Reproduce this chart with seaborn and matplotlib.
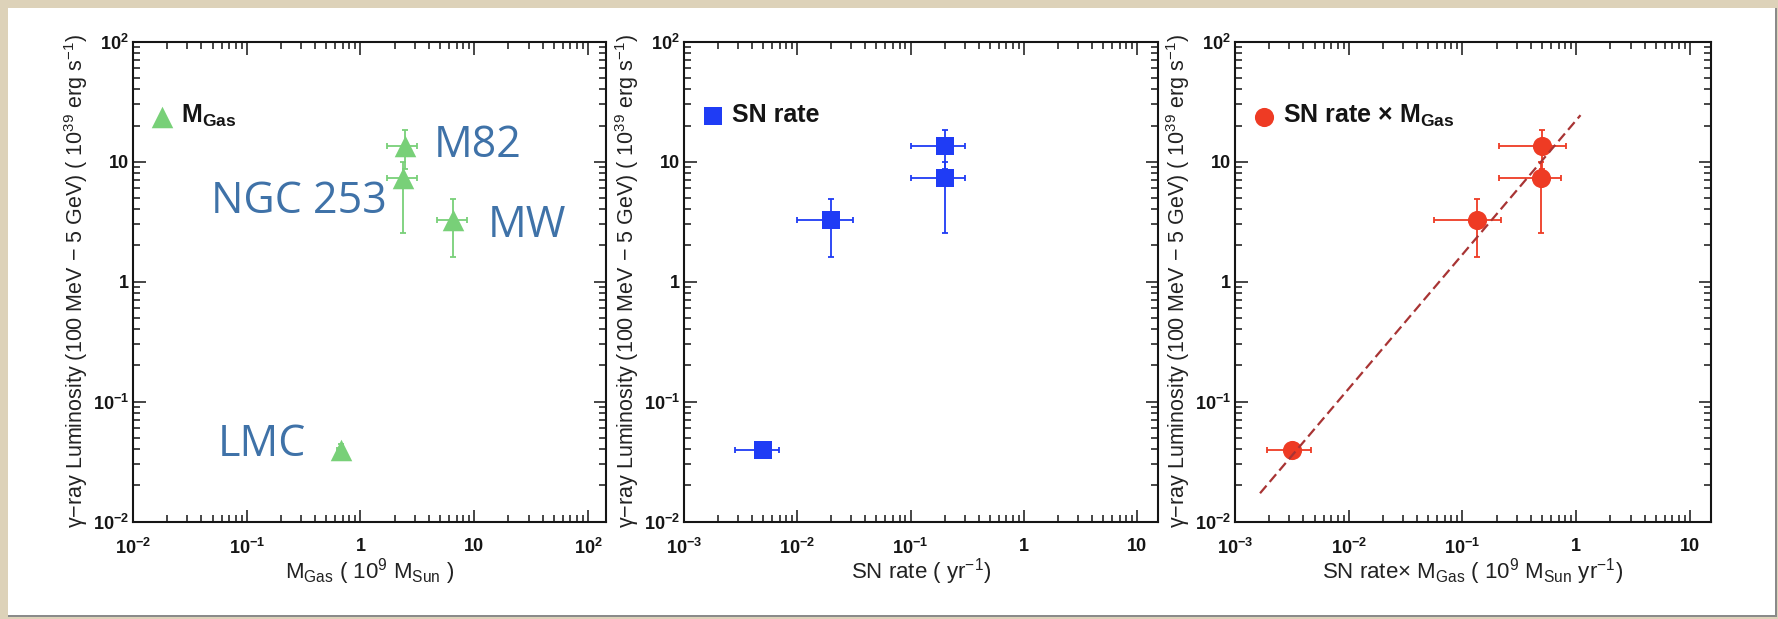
import numpy as np
import pandas as pd
import matplotlib
matplotlib.use("Agg")
import matplotlib.pyplot as plt
import seaborn as sns
from matplotlib.ticker import LogLocator, NullFormatter, FixedLocator
from matplotlib.patches import Rectangle

# ---------------------------------------------------------------- data
galaxies = ["M82", "NGC 253", "MW", "LMC"]

# gamma-ray luminosity, 100 MeV - 5 GeV, in 1e39 erg/s
lum = [13.5, 7.3, 3.25, 0.0395]
lum_lo = [4.8, 4.75, 1.65, 0.005]
lum_hi = [4.8, 2.7, 1.6, 0.005]

# total gas mass, 1e9 M_sun
m_gas = [2.46, 2.35, 6.46, 0.67]
m_gas_lo = [0.76, 0.65, 1.78, 0.05]
m_gas_hi = [0.66, 0.77, 2.23, 0.05]

# supernova rate, 1/yr
sn_rate = [0.2, 0.2, 0.02, 0.005]
sn_rate_lo = [0.1, 0.1, 0.01, 0.0022]
sn_rate_hi = [0.1, 0.1, 0.011, 0.0019]

# SN rate x gas mass, 1e9 M_sun / yr
sn_x_gas = [0.5, 0.49, 0.135, 0.0032]
sn_x_gas_lo = [0.29, 0.28, 0.079, 0.0013]
sn_x_gas_hi = [0.31, 0.24, 0.083, 0.0015]

# power-law fit drawn in the right panel (end points)
fit_x = [0.00166, 1.09]
fit_y = [0.0172, 24.4]

# tick values and labels
y_ticks = [0.01, 0.1, 1, 10, 100]
y_ticklabels = ["10$^{-2}$", "10$^{-1}$", "1", "10", "10$^{2}$"]
x1_ticks = [0.01, 0.1, 1, 10, 100]
x1_ticklabels = ["10$^{-2}$", "10$^{-1}$", "1", "10", "10$^{2}$"]
x23_ticks = [0.001, 0.01, 0.1, 1, 10]
x23_ticklabels = ["10$^{-3}$", "10$^{-2}$", "10$^{-1}$", "1", "10"]

df = pd.DataFrame({
    "galaxy": galaxies, "lum": lum, "m_gas": m_gas,
    "sn_rate": sn_rate, "sn_x_gas": sn_x_gas,
})

# ---------------------------------------------------------------- style
sns.set_theme(style="ticks")
plt.rcParams["font.family"] = ["Liberation Sans", "DejaVu Sans"]
plt.rcParams["mathtext.default"] = "regular"

INK = "#151515"
GREEN = "#78d078"
BLUE = "#1f3cf5"
RED = "#ee3b24"
FIT = "#a83434"
NOTE = "#3f72a8"

W, H = 1778, 619
fig = plt.figure(figsize=(W / 100, H / 100), dpi=100)
fig.patch.set_facecolor("#ddd2b9")
fig.patches.append(Rectangle((8 / W, 1 - 617 / H), 1769 / W, 609 / H,
                             transform=fig.transFigure, facecolor="#8a8a8a",
                             edgecolor="none", zorder=-2))
fig.patches.append(Rectangle((8 / W, 1 - 615 / H), 1767 / W, 607 / H,
                             transform=fig.transFigure, facecolor="white",
                             edgecolor="none", zorder=-1))

bottom = 1 - 521.5 / H
height = 479.8 / H
ax1 = fig.add_axes([133 / W, bottom, 473 / W, height])
ax2 = fig.add_axes([684 / W, bottom, 474 / W, height])
ax3 = fig.add_axes([1235 / W, bottom, 476 / W, height])

ylabel = "γ−ray Luminosity (100 MeV − 5 GeV) ( 10$^{39}$ erg s$^{-1}$)"


def style_axes(ax, xlim, xticks, xticklabels, xlabel):
    ax.set_xscale("log")
    ax.set_yscale("log")
    ax.set_xlim(*xlim)
    ax.set_ylim(0.01, 100)
    ax.xaxis.set_major_locator(FixedLocator(xticks))
    ax.set_xticks(xticks, xticklabels)
    ax.yaxis.set_major_locator(FixedLocator(y_ticks))
    ax.set_yticks(y_ticks, y_ticklabels)
    for axis in (ax.xaxis, ax.yaxis):
        axis.set_minor_locator(LogLocator(base=10, subs=np.arange(2, 10), numticks=100))
        axis.set_minor_formatter(NullFormatter())
    ax.tick_params(which="both", direction="in", top=True, right=True,
                   color=INK, width=1.1)
    ax.tick_params(which="major", length=9)
    ax.tick_params(which="minor", length=5)
    ax.tick_params(axis="x", which="major", pad=12)
    ax.tick_params(axis="y", which="major", pad=3)
    for lab in ax.get_xticklabels() + ax.get_yticklabels():
        lab.set_fontweight("bold")
        lab.set_fontsize(13)
        lab.set_color(INK)
    for sp in ax.spines.values():
        sp.set_linewidth(1.5)
        sp.set_color(INK)
    ax.set_xlabel(xlabel, fontsize=16, color="#222222")
    ax.set_ylabel(ylabel, fontsize=15.5, color="#222222")
    ax.xaxis.set_label_coords(0.5, -0.072)
    ax.yaxis.set_label_coords(-0.09, 0.5)
    ax.set_facecolor("white")


def draw_points(ax, xcol, xlo, xhi, marker, size, color, label):
    ax.errorbar(df[xcol], df["lum"], xerr=[xlo, xhi], yerr=[lum_lo, lum_hi],
                fmt="none", ecolor=color, elinewidth=1.3, capsize=2.5,
                capthick=1.3, zorder=2, label="_nolegend_")
    sns.scatterplot(data=df, x=xcol, y="lum", ax=ax, marker=marker, s=size,
                    color=color, linewidth=0, zorder=3, label=label)
    leg = ax.legend(loc="upper left", bbox_to_anchor=(0.035, 0.872),
                    frameon=False, borderpad=0, borderaxespad=0,
                    handlelength=1.0, handletextpad=0.25,
                    prop={"family": "Liberation Sans", "weight": "bold", "size": 18})
    for t in leg.get_texts():
        t.set_color(INK)


# left: gas mass
draw_points(ax1, "m_gas", m_gas_lo, m_gas_hi, "^", 240, GREEN, "M$_{Gas}$")
style_axes(ax1, (0.01, 144), x1_ticks, x1_ticklabels,
           "M$_{Gas}$ ( 10$^{9}$ M$_{Sun}$ )")

# galaxy names next to the gas-mass points
name_pos = {"M82": (4.43, 11.0, "left"), "NGC 253": (1.69, 3.74, "right"),
            "MW": (13.2, 2.36, "left"), "LMC": (0.332, 0.0353, "right")}
for name, (tx, ty, ha) in name_pos.items():
    ax1.text(tx, ty, name, ha=ha, va="baseline", fontsize=31, color=NOTE,
             family=["Open Sans", "DejaVu Sans"])

# middle: supernova rate
draw_points(ax2, "sn_rate", sn_rate_lo, sn_rate_hi, "s", 160, BLUE, "SN rate")
style_axes(ax2, (0.001, 15.3), x23_ticks, x23_ticklabels, "SN rate ( yr$^{-1}$)")

# right: SN rate x gas mass with power-law fit
draw_points(ax3, "sn_x_gas", sn_x_gas_lo, sn_x_gas_hi, "o", 190, RED,
            "SN rate × M$_{Gas}$")
sns.lineplot(x=fit_x, y=fit_y, ax=ax3, color=FIT, linewidth=1.6,
             linestyle=(0, (4.5, 2.2)), zorder=4, legend=False)
style_axes(ax3, (0.001, 15.3), x23_ticks, x23_ticklabels,
           "SN rate× M$_{Gas}$ ( 10$^{9}$ M$_{Sun}$ yr$^{-1}$)")

fig.savefig("out.png", dpi=100, facecolor=fig.get_facecolor())
